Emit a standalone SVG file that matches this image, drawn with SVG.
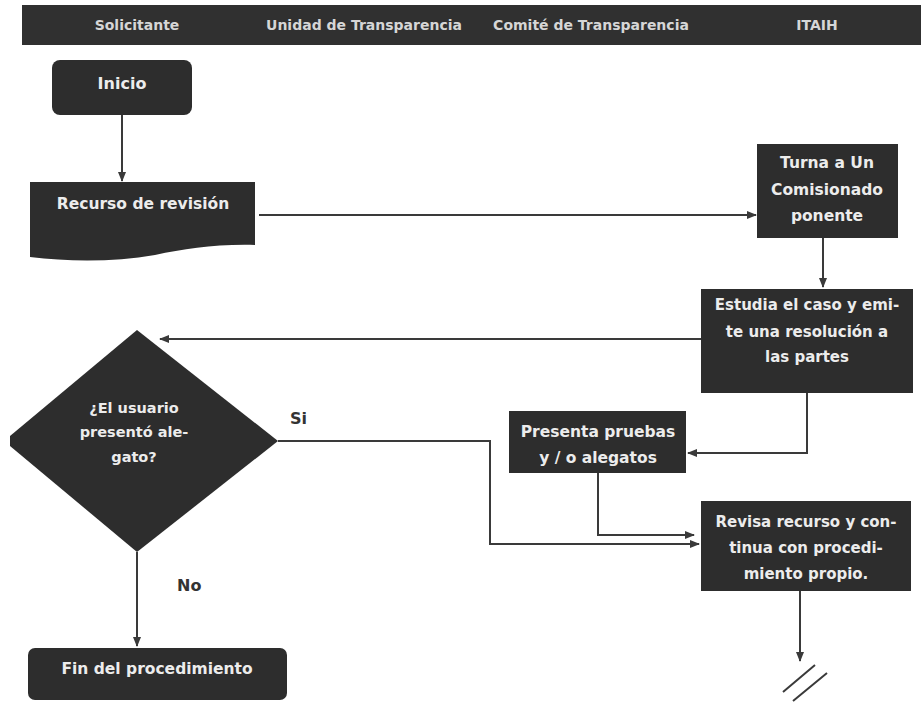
<svg xmlns="http://www.w3.org/2000/svg" width="921" height="702" viewBox="0 0 921 702">
<style>
.box{fill:#2d2d2d;}
.t{font-family:"DejaVu Sans","Liberation Sans",Arial,sans-serif;font-weight:bold;fill:#ececec;text-anchor:middle;font-size:15px;}
.h{font-family:"DejaVu Sans","Liberation Sans",Arial,sans-serif;font-weight:bold;fill:#d6d6d6;text-anchor:middle;font-size:14px;}
.lbl{font-family:"DejaVu Sans","Liberation Sans",Arial,sans-serif;font-weight:bold;fill:#333;font-size:16px;}
.c{fill:none;stroke:#3a3a3a;stroke-width:2;}
</style>
<defs>
<marker id="ah" markerUnits="userSpaceOnUse" markerWidth="10" markerHeight="8" refX="9" refY="4" orient="auto">
<path d="M0,0 L10,4 L0,8 Z" fill="#3a3a3a"/>
</marker>
</defs>
<rect width="921" height="702" fill="#ffffff"/>
<g id="header">
<rect x="22" y="5" width="899" height="40" fill="#303030"/>
<text class="h" x="137" y="30">Solicitante</text>
<text class="h" x="364" y="30">Unidad de Transparencia</text>
<text class="h" x="591" y="30">Comité de Transparencia</text>
<text class="h" x="817" y="30">ITAIH</text>
</g>
<g id="connectors">
<path class="c" d="M122,115 V181" marker-end="url(#ah)"/>
<path class="c" d="M259,215 H756" marker-end="url(#ah)"/>
<path class="c" d="M823,238 V287" marker-end="url(#ah)"/>
<path class="c" d="M701,339 H160" marker-end="url(#ah)"/>
<path class="c" d="M807,393 V453 H688" marker-end="url(#ah)"/>
<path class="c" d="M598,473 V535 H694" marker-end="url(#ah)"/>
<path class="c" d="M278,441 H490 V544 H699" marker-end="url(#ah)"/>
<path class="c" d="M137,552 V646" marker-end="url(#ah)"/>
<path class="c" d="M800,591 V661" marker-end="url(#ah)"/>
<path class="c" d="M783,692 L815,665 M793,701 L827,673"/>
</g>
<g id="inicio">
<rect class="box" x="52" y="60" width="140" height="55" rx="8"/>
<text class="t" x="122" y="89" style="font-size:16px">Inicio</text>
</g>
<g id="recurso">
<path class="box" d="M30,182 H255 V245 C215,244 185,249 155,255 C115,262 70,262 30,257 Z"/>
<text class="t" x="143" y="209" style="font-size:15.5px">Recurso de revisión</text>
</g>
<g id="turna">
<rect class="box" x="757" y="144" width="141" height="94"/>
<text class="t" x="827" y="168" style="font-size:15.5px">Turna a Un</text>
<text class="t" x="827" y="195" style="font-size:15.5px">Comisionado</text>
<text class="t" x="827" y="221" style="font-size:15.5px">ponente</text>
</g>
<g id="estudia">
<rect class="box" x="701" y="289" width="212" height="104"/>
<text class="t" x="807" y="310">Estudia el caso y emi-</text>
<text class="t" x="807" y="337">te una resolución a</text>
<text class="t" x="807" y="362">las partes</text>
</g>
<g id="decision">
<polygon class="box" points="137,330 278,441 137,552 10,446 10,436"/>
<text class="t" x="134" y="413" style="font-size:14.5px">¿El usuario</text>
<text class="t" x="134" y="437" style="font-size:14.5px">presentó ale-</text>
<text class="t" x="134" y="462" style="font-size:14.5px">gato?</text>
</g>
<g id="presenta">
<rect class="box" x="509" y="411" width="177" height="62"/>
<text class="t" x="598" y="437" style="font-size:15.5px">Presenta pruebas</text>
<text class="t" x="598" y="463" style="font-size:15.5px">y / o alegatos</text>
</g>
<g id="revisa">
<rect class="box" x="701" y="501" width="210" height="90"/>
<text class="t" x="806" y="527">Revisa recurso y con-</text>
<text class="t" x="806" y="553">tinua con procedi-</text>
<text class="t" x="806" y="579">miento propio.</text>
</g>
<g id="fin">
<rect class="box" x="28" y="648" width="259" height="52" rx="7"/>
<text class="t" x="157" y="674" style="font-size:15.5px">Fin del procedimiento</text>
</g>
<g id="labels">
<text class="lbl" x="290" y="424">Si</text>
<text class="lbl" x="177" y="591">No</text>
</g>
</svg>
